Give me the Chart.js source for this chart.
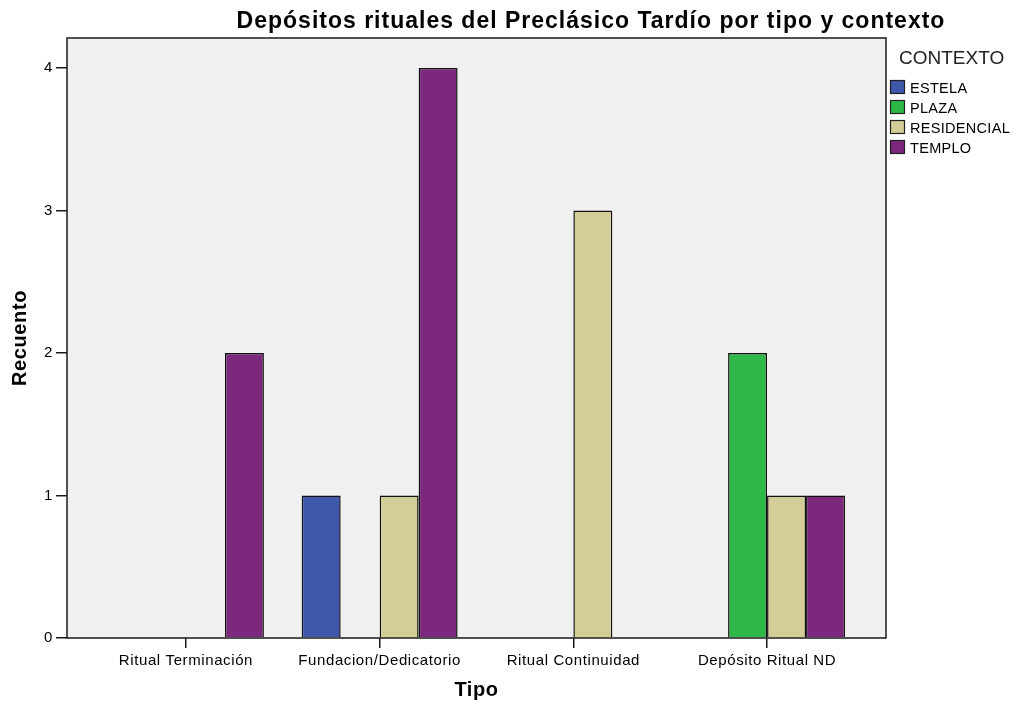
<!DOCTYPE html>
<html>
<head>
<meta charset="utf-8">
<script src="https://cdn.jsdelivr.net/npm/chart.js@4.4.1/dist/chart.umd.min.js"></script>
<style>
  body { margin: 0; background: #fff; }
  #wrap { width: 1015px; height: 706px; position: relative; }
</style>
</head>
<body>
<div id="wrap"><canvas id="chart"></canvas></div>
<script>
// Recuento de depósitos por tipo (eje x) y contexto (series)
const titulo = "Depósitos rituales del Preclásico Tardío por tipo y contexto";
const tipos = ["Ritual Terminación", "Fundacion/Dedicatorio", "Ritual Continuidad", "Depósito Ritual ND"];
const contextos = ["ESTELA", "PLAZA", "RESIDENCIAL", "TEMPLO"];
const estela = [0, 1, 0, 0];
const plaza = [0, 0, 0, 2];
const residencial = [0, 1, 3, 1];
const templo = [2, 4, 0, 1];
const yTicks = [0, 1, 2, 3, 4];

const series = [estela, plaza, residencial, templo];
const colores = ["#3e58ac", "#2eb848", "#d3ce97", "#7c287d"];
const FONT = "'Liberation Sans', Arial, sans-serif";

// a count of 0 gets no bar at all
function toPoints(values) {
  return values.map((v, i) => ({ x: i, y: v === 0 ? null : v }));
}

// grey plot background + black frame
const plotFrame = {
  id: "plotFrame",
  beforeDraw(chart) {
    const { ctx, chartArea: a } = chart;
    ctx.letterSpacing = "0.6px";
    ctx.save();
    ctx.fillStyle = "#f0f0f0";
    ctx.fillRect(a.left, a.top, a.right - a.left, a.bottom - a.top);
    ctx.restore();
  },
  afterDatasetsDraw(chart) {
    const { ctx, chartArea: a } = chart;
    ctx.save();
    ctx.strokeStyle = "#1a1a1a";
    ctx.lineWidth = 1.5;
    ctx.strokeRect(a.left, a.top, a.right - a.left, a.bottom - a.top);
    ctx.restore();
  }
};

// title and the CONTEXTO legend on the right
const heading = {
  id: "heading",
  afterDraw(chart) {
    const ctx = chart.ctx;
    ctx.save();
    ctx.fillStyle = "#000";
    ctx.font = "bold 23px " + FONT;
    ctx.letterSpacing = "1px";
    ctx.textAlign = "center";
    ctx.textBaseline = "alphabetic";
    ctx.fillText(titulo, 591, 28);

    ctx.textAlign = "left";
    ctx.letterSpacing = "0px";
    ctx.fillStyle = "#222";
    ctx.font = "19px " + FONT;
    ctx.fillText("CONTEXTO", 899, 64);

    ctx.font = "14.5px " + FONT;
    ctx.letterSpacing = "0.3px";
    chart.data.datasets.forEach((ds, i) => {
      const y = 80 + i * 20;
      ctx.fillStyle = ds.backgroundColor;
      ctx.fillRect(890, y, 15, 14);
      ctx.strokeStyle = "#222";
      ctx.lineWidth = 1.2;
      ctx.strokeRect(890.5, y + 0.5, 14, 13);
      ctx.fillStyle = "#000";
      ctx.fillText(ds.label, 910, y + 12.5);
    });
    ctx.restore();
  }
};

new Chart(document.getElementById("chart"), {
  type: "bar",
  data: {
    datasets: contextos.map((c, i) => ({
      label: c,
      data: toPoints(series[i]),
      backgroundColor: colores[i],
      borderColor: "#111",
      borderWidth: 1.5,
      barPercentage: 1,
      categoryPercentage: 0.805
    }))
  },
  options: {
    responsive: true,
    maintainAspectRatio: false,
    animation: false,
    layout: { padding: { top: 38, right: 129, left: 0, bottom: 0 } },
    plugins: {
      legend: { display: false },
      tooltip: { enabled: false }
    },
    scales: {
      x: {
        type: "linear",
        min: -0.614,
        max: 3.614,
        offset: false,
        afterBuildTicks: (s) => { s.ticks = tipos.map((_, i) => ({ value: i })); },
        afterFit: (s) => { s.height = 68; },
        grid: { offset: false, drawOnChartArea: false, drawTicks: true, tickLength: 10, color: "#1a1a1a", lineWidth: 1.5 },
        border: { display: false },
        ticks: {
          callback: (v) => tipos[v],
          font: { family: FONT, size: 15 },
          color: "#000",
          padding: 4,
          maxRotation: 0,
          autoSkip: false
        },
        title: {
          display: true,
          text: "Tipo",
          font: { family: FONT, size: 20, weight: "bold" },
          color: "#000",
          padding: { top: 0, bottom: 4 }
        }
      },
      y: {
        min: 0,
        max: 4.21,
        afterBuildTicks: (s) => { s.ticks = yTicks.map((v) => ({ value: v })); },
        afterFit: (s) => { s.width = 67; },
        grid: { drawOnChartArea: false, drawTicks: true, tickLength: 11, color: "#1a1a1a", lineWidth: 1.5 },
        border: { display: false },
        ticks: {
          font: { family: FONT, size: 15 },
          color: "#000",
          padding: 3
        },
        title: {
          display: true,
          text: "Recuento",
          font: { family: FONT, size: 20, weight: "bold" },
          color: "#000",
          padding: { top: 8, bottom: 0 }
        }
      }
    }
  },
  plugins: [plotFrame, heading]
});
</script>
</body>
</html>
